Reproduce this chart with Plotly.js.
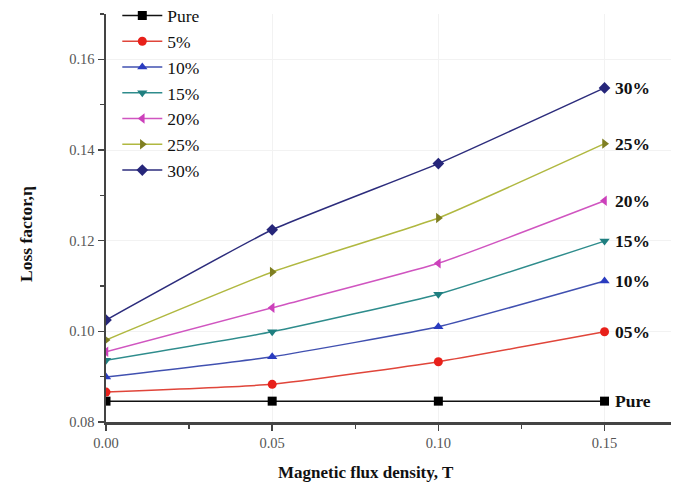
<!DOCTYPE html>
<html>
<head>
<meta charset="utf-8">
<script src="https://cdn.plot.ly/plotly-3.0.1.min.js"></script>
<style>html,body{margin:0;padding:0;background:#fff;}#chart{width:680px;height:486px;}</style>
</head>
<body>
<div id="chart"></div>
<script>
const fluxDensity = [0.00, 0.05, 0.10, 0.15];
const seriesNames = ["Pure", "5%", "10%", "15%", "20%", "25%", "30%"];
const endLabels = ["Pure", "05%", "10%", "15%", "20%", "25%", "30%"];
const pure = [0.0846, 0.0846, 0.0846, 0.0846];
const pct5 = [0.0866, 0.0883, 0.0933, 0.0999];
const pct10 = [0.0899, 0.0944, 0.1010, 0.1111];
const pct15 = [0.0936, 0.0999, 0.1082, 0.1199];
const pct20 = [0.0955, 0.1052, 0.1150, 0.1288];
const pct25 = [0.0981, 0.1131, 0.1250, 0.1414];
const pct30 = [0.1025, 0.1224, 0.1370, 0.1537];

const allSeries = [pure, pct5, pct10, pct15, pct20, pct25, pct30];
const lineColors = ["#111111", "#e0453a", "#4050b0", "#2e8c8c", "#d055c0", "#b0b840", "#2c2c7c"];
const markerColors = ["#000000", "#e8201a", "#2a3cc0", "#1f7f80", "#cc40bb", "#7f7f22", "#26267a"];
const symbols = ["square", "circle", "triangle-up", "triangle-down", "triangle-left", "triangle-right", "diamond"];

const serif = "Liberation Serif, serif";

const traces = allSeries.map((ys, i) => ({
  x: fluxDensity,
  y: ys,
  name: seriesNames[i],
  type: "scatter",
  mode: "lines+markers",
  line: {color: lineColors[i], width: 1.5, shape: i === 0 ? "linear" : "spline", smoothing: 0.4},
  marker: {symbol: symbols[i], size: 9, color: markerColors[i]}
}));

const annotations = allSeries.map((ys, i) => ({
  x: fluxDensity[fluxDensity.length - 1],
  y: ys[ys.length - 1],
  xref: "x", yref: "y",
  text: "<b>" + endLabels[i] + "</b>",
  showarrow: false,
  xanchor: "left",
  xshift: 8,
  font: {family: serif, size: 17.5, color: "#111"}
}));

annotations.push({
  x: 366, y: 472, xref: "paper", yref: "paper",
  text: "<b>Magnetic flux density, T</b>", showarrow: false,
  xanchor: "center", yanchor: "middle",
  font: {family: serif, size: 17, color: "#111"}
});
annotations.push({
  x: 26, y: 234, xref: "paper", yref: "paper",
  text: "<b>Loss factor,η</b>", showarrow: false, textangle: -90,
  xanchor: "center", yanchor: "middle",
  font: {family: serif, size: 17.5, color: "#111"}
});

// convert pixel positions of the two axis titles to paper fractions
const L = 106, R = 9, T = 14, B = 64, W = 680, H = 486;
annotations.slice(-2).forEach(a => {
  a.x = (a.x - L) / (W - L - R);
  a.y = (H - B - a.y) / (H - T - B);
});

const layout = {
  width: W, height: H,
  margin: {l: L, r: R, t: T, b: B, autoexpand: false},
  paper_bgcolor: "#fff", plot_bgcolor: "#fff",
  showlegend: true,
  legend: {
    x: 0.02, y: 1.04, xanchor: "left", yanchor: "top",
    bgcolor: "rgba(255,255,255,0)",
    font: {family: serif, size: 17.5, color: "#111"},
    tracegroupgap: 0, itemwidth: 40
  },
  xaxis: {
    range: [0, 0.17],
    tickvals: [0, 0.05, 0.10, 0.15],
    ticktext: ["0.00", "0.05", "0.10", "0.15"],
    ticks: "outside", ticklen: 6, tickwidth: 1.5, tickcolor: "#444",
    minor: {tickvals: [0.025, 0.075, 0.125], ticks: "outside", ticklen: 4, tickcolor: "#444", showgrid: false},
    showline: true, linecolor: "#444", linewidth: 2.5,
    showgrid: true, gridcolor: "#f2f2f2", gridwidth: 1,
    zeroline: false,
    tickfont: {family: serif, size: 14.5, color: "#555"}
  },
  yaxis: {
    range: [0.08, 0.17],
    tickvals: [0.08, 0.10, 0.12, 0.14, 0.16],
    ticktext: ["0.08", "0.10", "0.12", "0.14", "0.16"],
    ticks: "outside", ticklen: 6, tickwidth: 1.5, tickcolor: "#444",
    minor: {tickvals: [0.09, 0.11, 0.13, 0.15, 0.17], ticks: "outside", ticklen: 4, tickcolor: "#444", showgrid: false},
    showline: true, linecolor: "#444", linewidth: 2.5,
    showgrid: true, gridcolor: "#f2f2f2", gridwidth: 1,
    zeroline: false,
    tickfont: {family: serif, size: 14.5, color: "#555"}
  },
  annotations: annotations
};

Plotly.newPlot("chart", traces, layout, {displayModeBar: false, staticPlot: true});
</script>
</body>
</html>
